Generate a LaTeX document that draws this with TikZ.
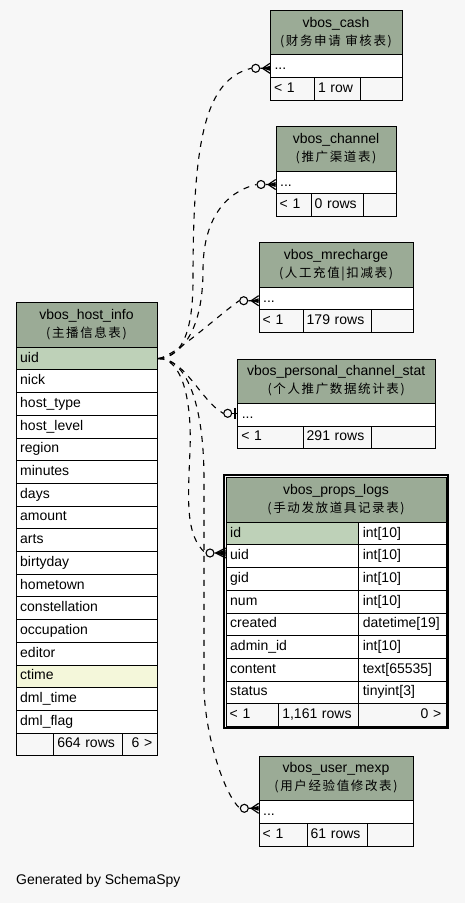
\documentclass[tikz,border=0pt]{standalone}
\usepackage{fontspec}
\setmainfont{Liberation Sans}
\newfontfamily\cjk{Noto Sans CJK SC}[LetterSpace=13]
\definecolor{bgc}{HTML}{F7F7F7}
\definecolor{hdrc}{HTML}{9BAB96}
\definecolor{pkc}{HTML}{BED1B8}
\definecolor{idxc}{HTML}{F4F7DA}
\newcommand\rowfont{\fontsize{14}{16}\selectfont}
\newcommand\cjksub{\cjk\fontsize{12.5}{14}\selectfont}
\tikzset{
 cell/.style={draw=black, line width=1pt, fill=white, anchor=north west, minimum height=22.7pt, inner xsep=4pt, inner ysep=0pt, text height=10pt, text depth=3pt, align=left, font=\rowfont},
 pk/.style={cell, fill=pkc},
 idx/.style={cell, fill=idxc},
 foot/.style={cell, fill=bgc, inner xsep=3.5pt},
 footr/.style={foot, align=right, inner xsep=5.5pt},
 hdr/.style={draw=black, line width=1pt, fill=hdrc, anchor=north west, minimum height=44.4pt, inner sep=0pt},
 ttl/.style={anchor=base, font=\rowfont, inner sep=0pt},
 sub/.style={anchor=base, font=\cjksub, inner sep=0pt},
 rel/.style={draw=black, line width=1.1pt, dash pattern=on 6pt off 6pt},
 odot/.style={circle, draw=black, line width=1.1pt, fill=bgc, minimum size=8pt, inner sep=0pt},
 crowl/.style={draw=black, line width=1.2pt},
}
\begin{document}
\begin{tikzpicture}[x=1pt,y=-1pt]
\fill[bgc] (0,0) rectangle (465,903);
\useasboundingbox (0,0) rectangle (465,903);

% ---------- vbos_cash ----------
\node[hdr, minimum width=132pt] (cash) at (270,10) {};
\node[ttl] (cash-t) at (336,27) {vbos\_cash};
\node[sub] (cash-s) at (336,45) {(财务申请 审核表)};
\node[cell, text width=124pt] (cash-r) at (270,54.4) {...};
\node[foot, text width=37pt] (cash-f1) at (270,77.1) {< 1};
\node[foot, text width=39pt] (cash-f2) at (314,77.1) {1 row};
\node[foot, text width=35pt] (cash-f3) at (360,77.1) {};

% ---------- vbos_channel ----------
\node[hdr, minimum width=120.6pt] (ch) at (275.7,126.3) {};
\node[ttl] (ch-t) at (336,143.3) {vbos\_channel};
\node[sub] (ch-s) at (336,161.3) {(推广渠道表)};
\node[cell, text width=112.6pt] (ch-r) at (275.7,170.7) {...};
\node[foot, text width=28pt] (ch-f1) at (275.7,193.4) {< 1};
\node[foot, text width=45pt] (ch-f2) at (310.7,193.4) {0 rows};
\node[foot, text width=26.6pt] (ch-f3) at (362.7,193.4) {};

% ---------- vbos_mrecharge ----------
\node[hdr, minimum width=154.6pt] (mr) at (258.7,242.3) {};
\node[ttl] (mr-t) at (336,259.3) {vbos\_mrecharge};
\node[sub] (mr-s) at (336,277.3) {(人工充值|扣减表)};
\node[cell, text width=146.6pt] (mr-r) at (258.7,286.7) {...};
\node[foot, text width=37pt] (mr-f1) at (258.7,309.4) {< 1};
\node[foot, text width=61pt] (mr-f2) at (302.7,309.4) {179 rows};
\node[foot, text width=35.6pt] (mr-f3) at (370.7,309.4) {};

% ---------- vbos_personal_channel_stat ----------
\node[hdr, minimum width=197.7pt] (ps) at (237.3,358.5) {};
\node[ttl] (ps-t) at (336.15,375.5) {vbos\_personal\_channel\_stat};
\node[sub] (ps-s) at (336.15,393.5) {(个人推广数据统计表)};
\node[cell, text width=189.7pt] (ps-r) at (237.3,402.9) {...};
\node[foot, text width=58.4pt] (ps-f1) at (237.3,425.6) {< 1};
\node[foot, text width=61.3pt] (ps-f2) at (302.7,425.6) {291 rows};
\node[foot, text width=57pt] (ps-f3) at (371,425.6) {};

% ---------- vbos_props_logs ----------
\draw[line width=2pt] (223.7,475.3) rectangle (448.3,728);
\node[hdr, minimum width=220.6pt] (pl) at (225.7,477.3) {};
\node[ttl] (pl-t) at (336,494.3) {vbos\_props\_logs};
\node[sub] (pl-s) at (336,512.3) {(手动发放道具记录表)};
\node[pk, text width=124.6pt] (pl-1) at (225.7,521.7) {id};
\node[cell, text width=80pt] (pl-1t) at (358.3,521.7) {int[10]};
\node[cell, text width=124.6pt] (pl-2) at (225.7,544.4) {uid};
\node[cell, text width=80pt] (pl-2t) at (358.3,544.4) {int[10]};
\node[cell, text width=124.6pt] (pl-3) at (225.7,567.1) {gid};
\node[cell, text width=80pt] (pl-3t) at (358.3,567.1) {int[10]};
\node[cell, text width=124.6pt] (pl-4) at (225.7,589.8) {num};
\node[cell, text width=80pt] (pl-4t) at (358.3,589.8) {int[10]};
\node[cell, text width=124.6pt] (pl-5) at (225.7,612.5) {created};
\node[cell, text width=80pt] (pl-5t) at (358.3,612.5) {datetime[19]};
\node[cell, text width=124.6pt] (pl-6) at (225.7,635.2) {admin\_id};
\node[cell, text width=80pt] (pl-6t) at (358.3,635.2) {int[10]};
\node[cell, text width=124.6pt] (pl-7) at (225.7,657.9) {content};
\node[cell, text width=80pt] (pl-7t) at (358.3,657.9) {text[65535]};
\node[cell, text width=124.6pt] (pl-8) at (225.7,680.6) {status};
\node[cell, text width=80pt] (pl-8t) at (358.3,680.6) {tinyint[3]};
\node[foot, text width=45.6pt] (pl-f1) at (225.7,703.3) {< 1};
\node[foot, text width=73pt] (pl-f2) at (278.3,703.3) {1,161 rows};
\node[footr, text width=77pt] (pl-f3) at (358.3,703.3) {0 >};

% ---------- vbos_host_info ----------
\node[hdr, minimum width=141.6pt] (hi) at (15.7,302.3) {};
\node[ttl] (hi-t) at (86.5,319.3) {vbos\_host\_info};
\node[sub] (hi-s) at (86.5,337.3) {(主播信息表)};
\node[pk, text width=133.6pt] (hi-1) at (15.7,346.7) {uid};
\node[cell, text width=133.6pt] (hi-2) at (15.7,369.4) {nick};
\node[cell, text width=133.6pt] (hi-3) at (15.7,392.1) {host\_type};
\node[cell, text width=133.6pt] (hi-4) at (15.7,414.8) {host\_level};
\node[cell, text width=133.6pt] (hi-5) at (15.7,437.5) {region};
\node[cell, text width=133.6pt] (hi-6) at (15.7,460.2) {minutes};
\node[cell, text width=133.6pt] (hi-7) at (15.7,482.9) {days};
\node[cell, text width=133.6pt] (hi-8) at (15.7,505.6) {amount};
\node[cell, text width=133.6pt] (hi-9) at (15.7,528.3) {arts};
\node[cell, text width=133.6pt] (hi-10) at (15.7,551.0) {birtyday};
\node[cell, text width=133.6pt] (hi-11) at (15.7,573.7) {hometown};
\node[cell, text width=133.6pt] (hi-12) at (15.7,596.4) {constellation};
\node[cell, text width=133.6pt] (hi-13) at (15.7,619.1) {occupation};
\node[cell, text width=133.6pt] (hi-14) at (15.7,641.8) {editor};
\node[idx, text width=133.6pt] (hi-15) at (15.7,664.5) {ctime};
\node[cell, text width=133.6pt] (hi-16) at (15.7,687.2) {dml\_time};
\node[cell, text width=133.6pt] (hi-17) at (15.7,709.9) {dml\_flag};
\node[foot, text width=30.6pt] (hi-f1) at (15.7,732.6) {};
\node[foot, text width=61.4pt] (hi-f2) at (53.3,732.6) {664 rows};
\node[footr, text width=24.6pt] (hi-f3) at (121.7,732.6) {6 >};

% ---------- vbos_user_mexp ----------
\node[hdr, minimum width=154.6pt] (mx) at (258.7,755.7) {};
\node[ttl] (mx-t) at (336,772.7) {vbos\_user\_mexp};
\node[sub] (mx-s) at (336,790.7) {(用户经验值修改表)};
\node[cell, text width=146.6pt] (mx-r) at (258.7,800.1) {...};
\node[foot, text width=41pt] (mx-f1) at (258.7,822.8) {< 1};
\node[foot, text width=53pt] (mx-f2) at (306.7,822.8) {61 rows};
\node[foot, text width=39.6pt] (mx-f3) at (366.7,822.8) {};

% ---------- relationship ends ----------
\node[odot] (cash-o) at (255.7,68.3) {};
\node[odot] (ch-o) at (261,184.5) {};
\node[odot] (mr-o) at (243.7,300.7) {};
\node[odot] (ps-o) at (227.7,413.3) {};
\node[odot] (pl-o) at (210,553) {};
\node[odot] (mx-o) at (244.3,808.3) {};

\coordinate (cash-v) at (262.5,68.3);
\coordinate (ch-v) at (268.2,184.5);
\coordinate (mr-v) at (251.2,300.7);
\coordinate (pl-v) at (215.7,553);
\coordinate (mx-v) at (251.2,808.3);
\coordinate (ps-v) at (235,413.3);

\foreach \v in {cash,ch,mr,mx}{
  \draw[crowl] (\v-o.east) -- (\v-v) -- ++(7.5,-5) (\v-v) -- ++(7.5,0) (\v-v) -- ++(7.5,5);
  \fill (\v-v) -- ++(7.5,-2.5) -- ++(0,5) -- cycle;
}
\draw[crowl] (pl-o.east) -- (pl-v) -- ++(10,-5) (pl-v) -- ++(10,0) (pl-v) -- ++(10,5);
\fill (pl-v) -- ++(10,-3.5) -- ++(0,7) -- cycle;
\draw[crowl] (ps-o.east) -- (ps-r.west |- ps-o);
\draw[line width=2.5pt] (ps-v) ++(0,-5.5) -- ++(0,11);

% ---------- relationships ----------
\draw[rel] (hi-1.east) .. controls (178,358) and (193,340) .. (193,280) .. controls (193,140) and (205,80) .. (cash-o.west);
\draw[rel] (hi-1.east) .. controls (182,356) and (203,330) .. (203,270) .. controls (203,220) and (225,192) .. (ch-o.west);
\draw[rel] (hi-1.east) .. controls (175,356) and (215,318) .. (mr-o.west);
\draw[rel] (hi-1.east) .. controls (185,358) and (200,400) .. (ps-o.west);
\draw[rel] (hi-1.east) .. controls (182,358) and (192,400) .. (190,450) .. controls (188,500) and (185,535) .. (pl-o.west);
\draw[rel] (hi-1.east) .. controls (185,358) and (204,400) .. (204,480) -- (204,690) .. controls (206,740) and (225,795) .. (mx-o.west);

\node[anchor=base west, font=\rowfont, inner sep=0pt] (gen) at (16,884) {Generated by SchemaSpy};
\end{tikzpicture}
\end{document}
